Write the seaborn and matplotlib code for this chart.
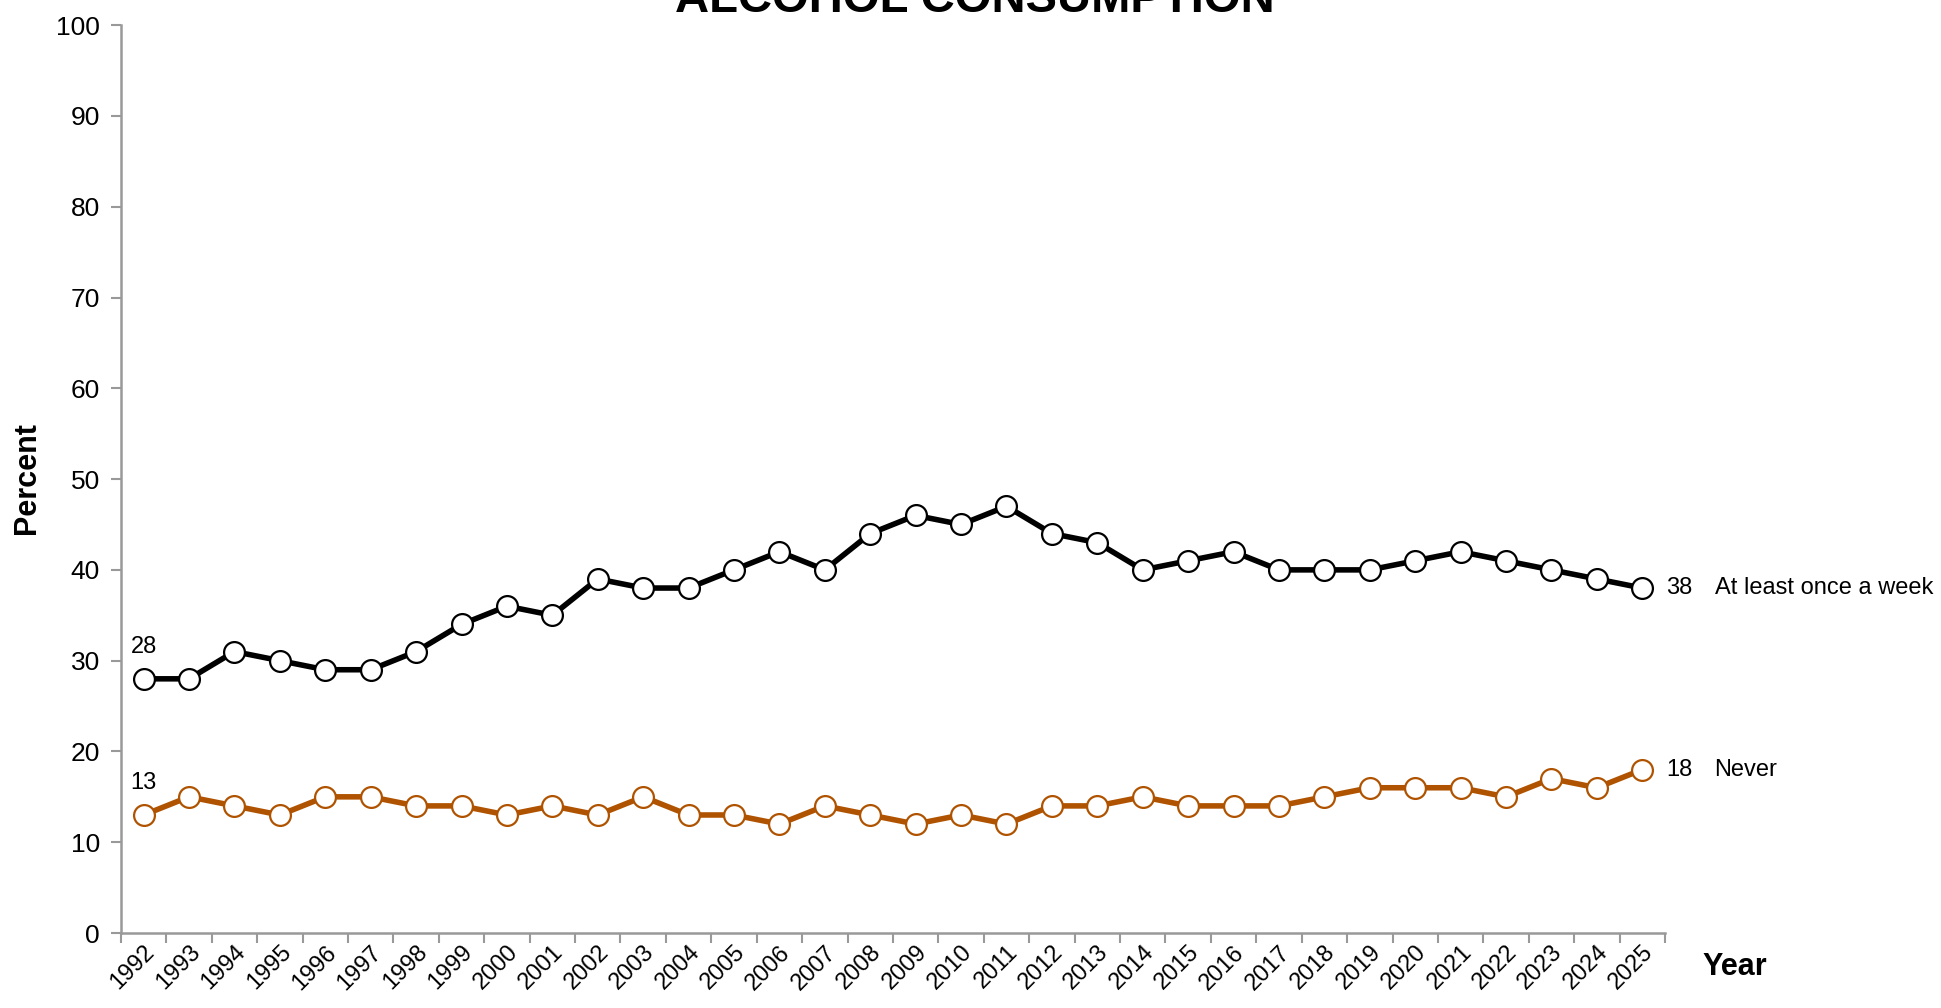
import pandas as pd
import matplotlib.pyplot as plt
import matplotlib.transforms as mtransforms
import seaborn as sns

years = list(range(1992, 2026))
weekly = [28, 28, 31, 30, 29, 29, 31, 34, 36, 35, 39, 38, 38, 40, 42, 40, 44, 46, 45, 47,
          44, 43, 40, 41, 42, 40, 40, 40, 41, 42, 41, 40, 39, 38]
never = [13, 15, 14, 13, 15, 15, 14, 14, 13, 14, 13, 15, 13, 13, 12, 14, 13, 12, 13, 12,
         14, 14, 15, 14, 14, 14, 15, 16, 16, 16, 15, 17, 16, 18]
series_names = ["At least once a week", "Never"]
colors = ["#000000", "#B05300"]

df = pd.DataFrame({
    "year": years * 2,
    "pct": weekly + never,
    "series": [series_names[0]] * len(years) + [series_names[1]] * len(years),
})

sns.set_style("white")
plt.rcParams["font.family"] = ["Liberation Sans", "DejaVu Sans"]
plt.rcParams["text.color"] = "black"
plt.rcParams["xtick.color"] = "black"
plt.rcParams["ytick.color"] = "black"

fig = plt.figure(figsize=(19.41, 10.08), dpi=100)
ax = fig.add_axes([0.0623, 0.0744, 0.7955, 0.9006])

for name, col in zip(series_names, colors):
    sub = df[df["series"] == name]
    sns.lineplot(data=sub, x="year", y="pct", ax=ax, color=col, linewidth=4,
                 marker="o", markersize=15, markerfacecolor="white",
                 markeredgecolor=col, markeredgewidth=1.6, zorder=3)
    first, last = sub.iloc[0], sub.iloc[-1]
    ax.annotate(f"{first['pct']}", (first["year"], first["pct"]), xytext=(0, 23),
                textcoords="offset points", ha="center", va="center", fontsize=17)
    ax.annotate(f"{last['pct']}", (last["year"], last["pct"]), xytext=(17, 0),
                textcoords="offset points", ha="left", va="center", fontsize=17)
    ax.annotate(name, (last["year"], last["pct"]), xytext=(52, 0),
                textcoords="offset points", ha="left", va="center", fontsize=17)

ax.set_xlim(years[0] - 0.5, years[-1] + 0.5)
ax.set_ylim(0, 100)
ax.set_yticks(range(0, 101, 10))
ax.set_xticks(years)
ax.set_xticks([y - 0.5 for y in years] + [years[-1] + 0.5], minor=True)
ax.set_xticklabels([str(y) for y in years], rotation=45, ha="right",
                   rotation_mode="anchor", fontsize=17)
offset = mtransforms.ScaledTranslation(11 / 72, -3 / 72, fig.dpi_scale_trans)
for lab in ax.get_xticklabels():
    lab.set_transform(lab.get_transform() + offset)
ax.tick_params(axis="x", which="major", length=0, pad=6)
ax.tick_params(axis="x", which="minor", length=7, width=1.5, color="#999999", direction="out")
ax.tick_params(axis="y", length=7, width=1.5, color="#999999", direction="out",
               labelsize=19, labelcolor="black", pad=8)
ax.xaxis.set_tick_params(bottom=True, which="both")
ax.yaxis.set_tick_params(left=True)

sns.despine(ax=ax)
for s in ["left", "bottom"]:
    ax.spines[s].set_color("#999999")
    ax.spines[s].set_linewidth(1.8)

ax.set_xlabel("")
ax.set_ylabel("")
fig.text(0.014, 0.526, "Percent", rotation=90, fontsize=22, fontweight="bold",
         ha="center", va="center")
fig.text(0.894, 0.041, "Year", fontsize=22, fontweight="bold", ha="center", va="center")
fig.text(0.502, 0.988, "ALCOHOL CONSUMPTION", fontsize=34, fontweight="bold",
         ha="center", va="baseline")

plt.savefig("out.png", dpi=100)
